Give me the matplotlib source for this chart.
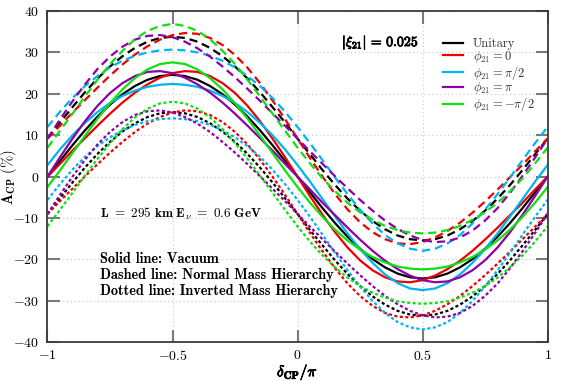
import matplotlib
matplotlib.use("Agg")
import matplotlib.pyplot as plt
import matplotlib.patheffects as pe
from matplotlib.ticker import FuncFormatter, MultipleLocator

plt.rcParams["mathtext.fontset"] = "cm"
plt.rcParams["font.family"] = ["cmr10", "DejaVu Serif"]
plt.rcParams["axes.formatter.use_mathtext"] = True

# delta_CP / pi, read every 0.05
DELTA = [round(-1 + 0.05 * i, 2) for i in range(41)]

LABELS = ["Unitary", r"$\phi_{21} = 0$", r"$\phi_{21} = \pi/2$",
          r"$\phi_{21} = \pi$", r"$\phi_{21} = -\pi/2$"]
COLORS = ["black", "#ee0000", "#00b4f0", "#8f00a8", "#10e010"]

# vacuum (solid)
vac_unitary = [0, 3.8, 7.6, 11.2, 14.5, 17.4, 19.9, 21.9, 23.4, 24.3, 24.6, 24.3, 23.4, 21.9, 19.9, 17.4, 14.5, 11.2, 7.6, 3.8, 0,
               -3.8, -7.6, -11.2, -14.5, -17.4, -19.9, -21.9, -23.4, -24.3, -24.6, -24.3, -23.4, -21.9, -19.9, -17.4, -14.5, -11.2, -7.6, -3.8, 0]
vac_phi0 = [0, 3.1, 6.3, 9.3, 12.3, 15.2, 17.9, 20.3, 22.3, 23.9, 25.0, 25.5, 25.3, 24.3, 22.6, 20.2, 17.1, 13.4, 9.2, 4.7, 0,
            -4.7, -9.2, -13.4, -17.1, -20.2, -22.6, -24.3, -25.3, -25.5, -25.0, -23.9, -22.3, -20.3, -17.9, -15.2, -12.3, -9.3, -6.3, -3.1, 0]
vac_phi_half = [2.8, 6.6, 10.0, 13.0, 15.6, 17.8, 19.5, 20.8, 21.7, 22.2, 22.4, 22.2, 21.7, 20.8, 19.5, 17.8, 15.6, 13.0, 10.0, 6.6, 2.8,
                -1.2, -5.4, -9.6, -13.7, -17.5, -20.8, -23.6, -25.7, -27.0, -27.4, -27.0, -25.7, -23.6, -20.8, -17.5, -13.7, -9.6, -5.4, -1.2, 2.8]
vac_phi_pi = [0, 4.7, 9.2, 13.4, 17.1, 20.2, 22.6, 24.3, 25.3, 25.5, 25.0, 23.9, 22.3, 20.3, 17.9, 15.2, 12.3, 9.3, 6.3, 3.1, 0,
              -3.1, -6.3, -9.3, -12.3, -15.2, -17.9, -20.3, -22.3, -23.9, -25.0, -25.5, -25.3, -24.3, -22.6, -20.2, -17.1, -13.4, -9.2, -4.7, 0]
vac_phi_mhalf = [-2.5, 1.5, 5.7, 9.9, 14.0, 17.7, 21.1, 23.8, 25.9, 27.2, 27.6, 27.2, 25.9, 23.8, 21.1, 17.7, 14.0, 9.9, 5.7, 1.5, -2.5,
                 -6.3, -9.7, -12.8, -15.4, -17.6, -19.4, -20.7, -21.7, -22.2, -22.4, -22.2, -21.7, -20.7, -19.4, -17.6, -15.4, -12.8, -9.7, -6.3, -2.5]

# normal mass hierarchy (dashed)
nmh_unitary = [9.2, 13.1, 16.8, 20.4, 23.7, 26.6, 29.1, 31.1, 32.6, 33.5, 33.8, 33.5, 32.6, 31.1, 29.1, 26.6, 23.7, 20.4, 16.8, 13.1, 9.2,
               5.4, 1.6, -2.0, -5.3, -8.2, -10.7, -12.7, -14.2, -15.1, -15.4, -15.1, -14.2, -12.7, -10.7, -8.2, -5.3, -2.0, 1.6, 5.4, 9.2]
nmh_phi0 = [9.2, 12.3, 15.5, 18.5, 21.5, 24.4, 27.1, 29.5, 31.5, 33.1, 34.2, 34.7, 34.5, 33.5, 31.8, 29.4, 26.3, 22.6, 18.4, 13.9, 9.2,
            4.5, 0.0, -4.2, -7.9, -11.0, -13.4, -15.1, -16.1, -16.3, -15.8, -14.7, -13.1, -11.1, -8.7, -6.0, -3.1, -0.1, 2.9, 6.1, 9.2]
nmh_phi_half = [12.0, 15.7, 19.0, 21.9, 24.3, 26.4, 28.0, 29.2, 30.0, 30.5, 30.7, 30.5, 30.0, 29.2, 28.0, 26.4, 24.3, 21.9, 19.0, 15.7, 12.0,
                8.1, 4.0, -0.2, -4.2, -8.0, -11.3, -14.1, -16.1, -17.4, -17.9, -17.4, -16.1, -14.1, -11.3, -8.0, -4.2, -0.2, 4.0, 8.1, 12.0]
nmh_phi_pi = [9.2, 13.8, 18.2, 22.3, 26.0, 29.0, 31.4, 33.1, 34.0, 34.2, 33.7, 32.6, 31.0, 29.0, 26.6, 24.0, 21.2, 18.3, 15.3, 12.3, 9.2,
              6.1, 3.1, 0.1, -2.8, -5.6, -8.2, -10.6, -12.6, -14.2, -15.3, -15.8, -15.6, -14.7, -13.0, -10.6, -7.6, -3.9, 0.2, 4.6, 9.2]
nmh_phi_mhalf = [7.0, 11.1, 15.2, 19.4, 23.4, 27.2, 30.4, 33.2, 35.2, 36.4, 36.9, 36.4, 35.2, 33.2, 30.4, 27.2, 23.4, 19.4, 15.2, 11.1, 7.0,
                 3.2, -0.4, -3.5, -6.3, -8.6, -10.4, -11.9, -12.9, -13.5, -13.7, -13.5, -12.9, -11.9, -10.4, -8.6, -6.3, -3.5, -0.4, 3.2, 7.0]

# inverted mass hierarchy (dotted)
imh_unitary = [-9.0, -5.2, -1.4, 2.2, 5.5, 8.4, 10.9, 12.9, 14.4, 15.3, 15.6, 15.3, 14.4, 12.9, 10.9, 8.4, 5.5, 2.2, -1.4, -5.2, -9.0,
               -12.9, -16.6, -20.2, -23.5, -26.4, -28.9, -30.9, -32.4, -33.3, -33.6, -33.3, -32.4, -30.9, -28.9, -26.4, -23.5, -20.2, -16.6, -12.9, -9.0]
imh_phi0 = [-9.0, -5.9, -2.9, 0.1, 3.0, 5.8, 8.4, 10.8, 12.8, 14.4, 15.5, 16.0, 15.8, 14.9, 13.2, 10.8, 7.8, 4.1, 0.0, -4.4, -9.0,
            -13.6, -18.0, -22.1, -25.8, -28.8, -31.2, -32.9, -33.8, -34.0, -33.5, -32.4, -30.8, -28.8, -26.4, -23.8, -21.0, -18.1, -15.1, -12.1, -9.0]
imh_phi_half = [-5.6, -1.8, 1.7, 4.8, 7.4, 9.5, 11.2, 12.5, 13.4, 13.9, 14.1, 13.9, 13.4, 12.5, 11.2, 9.5, 7.4, 4.8, 1.7, -1.8, -5.6,
                -9.7, -14.0, -18.4, -22.6, -26.5, -30.0, -32.9, -35.1, -36.4, -36.9, -36.4, -35.1, -32.9, -30.0, -26.5, -22.6, -18.4, -14.0, -9.7, -5.6]
imh_phi_pi = [-9.0, -4.4, 0.0, 4.1, 7.8, 10.8, 13.2, 14.9, 15.8, 16.0, 15.5, 14.4, 12.8, 10.8, 8.4, 5.8, 3.0, 0.1, -2.9, -5.9, -9.0,
              -12.1, -15.1, -18.1, -21.0, -23.8, -26.4, -28.8, -30.8, -32.4, -33.5, -34.0, -33.8, -32.9, -31.2, -28.8, -25.8, -22.1, -18.0, -13.6, -9.0]
imh_phi_mhalf = [-12.0, -8.0, -3.9, 0.3, 4.3, 8.1, 11.5, 14.3, 16.4, 17.7, 18.1, 17.7, 16.4, 14.3, 11.5, 8.1, 4.3, 0.3, -3.9, -8.0, -12.0,
                 -15.7, -19.0, -21.9, -24.4, -26.4, -28.0, -29.2, -30.1, -30.5, -30.7, -30.5, -30.1, -29.2, -28.0, -26.4, -24.4, -21.9, -19.0, -15.7, -12.0]

vacuum = [vac_unitary, vac_phi0, vac_phi_half, vac_phi_pi, vac_phi_mhalf]
normal = [nmh_unitary, nmh_phi0, nmh_phi_half, nmh_phi_pi, nmh_phi_mhalf]
inverted = [imh_unitary, imh_phi0, imh_phi_half, imh_phi_pi, imh_phi_mhalf]

fig, ax = plt.subplots(figsize=(5.68, 3.81), dpi=100)
fig.subplots_adjust(left=0.0836, right=0.964, top=0.971, bottom=0.1016)

lw = 1.6
for ys, c in zip(inverted, COLORS):
    ax.plot(DELTA, ys, color=c, lw=lw, dashes=(1.4, 1.1))
for ys, c in zip(normal, COLORS):
    ax.plot(DELTA, ys, color=c, lw=lw, dashes=(3.7, 2.2))
handles = []
for ys, c, lab in zip(vacuum, COLORS, LABELS):
    h, = ax.plot(DELTA, ys, color=c, lw=lw, label=lab)
    handles.append(h)

ax.set_xlim(-1, 1)
ax.set_ylim(-40, 40)
ax.xaxis.set_major_locator(MultipleLocator(0.5))
ax.yaxis.set_major_locator(MultipleLocator(10))
ax.xaxis.set_major_formatter(FuncFormatter(lambda v, p: f"${v:g}$"))
ax.yaxis.set_major_formatter(FuncFormatter(lambda v, p: f"${v:g}$"))
ax.tick_params(direction="in", length=9, width=1.5, color="#7a7a7a",
               top=True, right=True, labelsize=10)
ax.tick_params(axis="x", pad=5)
ax.tick_params(axis="y", pad=6)
ax.grid(True, color="#c8c8c8", lw=0.8, dashes=(1, 2.5))
for sp in ax.spines.values():
    sp.set_color("#3a3a3a")
    sp.set_linewidth(1.3)

bold = [pe.withStroke(linewidth=0.6, foreground="black")]
ax.set_xlabel(r"$\delta_{\mathbf{CP}}/\pi$", fontsize=11, path_effects=bold)
ax.xaxis.set_label_coords(0.5, -0.06)
ax.set_ylabel(r"$\mathbf{A_{CP}}$ (%)", fontsize=10.5)
ax.yaxis.set_label_coords(-0.056, 0.5)

ax.text(0.486, 32.4, r"$|\xi_{\mathbf{21}}|\,=\,\mathbf{0.025}$",
        ha="right", va="center", fontsize=10, path_effects=bold)
ax.text(-0.79, -9.0, r"$\mathbf{L\ =\ 295\ km\ E_{\nu}\ =\ 0.6\ GeV}$",
        ha="left", va="center", fontsize=9.5)
for y, s in [(-19.9, "Solid line: Vacuum"),
             (-23.8, "Dashed line: Normal Mass Hierarchy"),
             (-27.7, "Dotted line: Inverted Mass Hierarchy")]:
    ax.text(-0.79, y, s, ha="left", va="center", fontsize=10.3, family="cmb10")

ax.legend(handles=handles, loc="upper left", bbox_to_anchor=(0.791, 0.919),
          frameon=False, fontsize=9, handlelength=1.6, handletextpad=0.8,
          labelspacing=-0.1, borderpad=0, borderaxespad=0, labelcolor="#333333")

fig.savefig("out.png", dpi=100)
